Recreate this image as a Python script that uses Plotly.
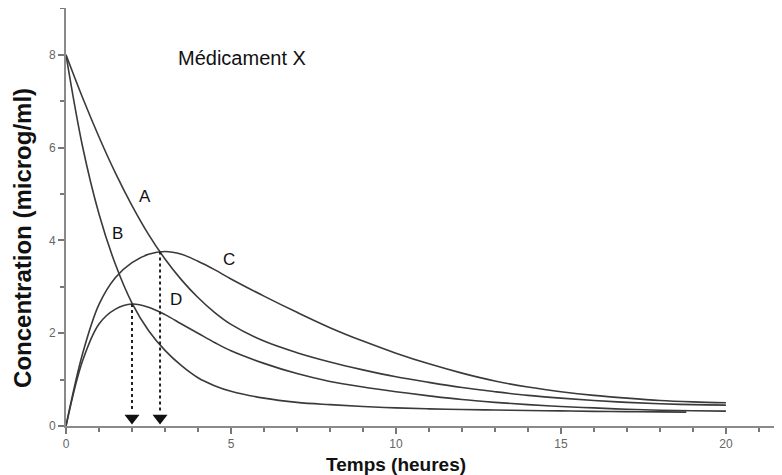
import plotly.graph_objects as go

# ---- data ----
time_h = [0, 0.5, 1, 1.5, 2, 2.5, 3, 3.5, 4, 4.5, 5, 6, 7, 8, 9, 10, 11, 12, 13, 14, 15, 16, 17, 18, 19, 20]
curve_A = [8.0, 7.08, 6.23, 5.45, 4.75, 4.13, 3.6, 3.15, 2.77, 2.45, 2.19, 1.83, 1.58, 1.38, 1.21, 1.06,
           0.94, 0.83, 0.74, 0.66, 0.60, 0.55, 0.51, 0.48, 0.46, 0.45]
curve_C = [0, 1.55, 2.62, 3.2, 3.52, 3.7, 3.76, 3.7, 3.55, 3.37, 3.17, 2.8, 2.45, 2.12, 1.83, 1.57,
           1.34, 1.14, 0.97, 0.84, 0.74, 0.66, 0.60, 0.55, 0.52, 0.50]
curve_D = [0, 1.4, 2.2, 2.52, 2.63, 2.56, 2.4, 2.2, 2.0, 1.8, 1.62, 1.35, 1.13, 0.96, 0.84, 0.74,
           0.65, 0.57, 0.51, 0.46, 0.42, 0.39, 0.36, 0.34, 0.33, 0.32]
time_B = [0, 0.5, 1, 1.5, 2, 2.5, 3, 3.5, 4, 4.5, 5, 6, 7, 8, 9, 10, 11, 12, 13, 14, 15, 16, 17, 18, 18.8]
curve_B = [8.0, 6.03, 4.57, 3.48, 2.65, 2.06, 1.63, 1.3, 1.04, 0.87, 0.75, 0.6, 0.51, 0.46, 0.42, 0.39,
           0.37, 0.355, 0.345, 0.335, 0.325, 0.315, 0.31, 0.305, 0.30]

# peaks of D and C (arrows)
peak_times = [2.0, 2.85]
peak_conc = [2.63, 3.76]

y_ticks = [0, 2, 4, 6, 8]
x_ticks = [0, 5, 10, 15, 20]
curve_labels = ["A", "B", "C", "D"]
label_pos_t = [2.4, 1.55, 4.94, 3.33]
label_pos_c = [4.94, 4.14, 3.58, 2.72]

line_col = "#3a3a3a"
fig = go.Figure()
for xs, ys in [(time_h, curve_A), (time_B, curve_B), (time_h, curve_C), (time_h, curve_D)]:
    fig.add_trace(go.Scatter(x=xs, y=ys, mode="lines",
                             line=dict(color=line_col, width=1.6, shape="spline", smoothing=1.0),
                             hoverinfo="skip", showlegend=False))

for tp, cp in zip(peak_times, peak_conc):
    fig.add_trace(go.Scatter(x=[tp, tp], y=[cp, 0.3], mode="lines",
                             line=dict(color="#222", width=2, dash="dot"), showlegend=False, hoverinfo="skip"))
    fig.add_trace(go.Scatter(x=[tp], y=[0.17], mode="markers",
                             marker=dict(symbol="triangle-down", size=13, color="#111"),
                             showlegend=False, hoverinfo="skip"))

for lab, xt, yc in zip(curve_labels, label_pos_t, label_pos_c):
    fig.add_annotation(x=xt, y=yc, text=lab, showarrow=False,
                       font=dict(family="Liberation Sans", size=17, color="#111"))

fig.add_annotation(x=5.33, y=7.93, text="Médicament X", showarrow=False,
                   font=dict(family="Liberation Sans", size=20, color="#111"))

fig.add_annotation(x=10, xref="x", y=-0.093, yref="paper", text="<b>Temps (heures)</b>", showarrow=False,
                   font=dict(family="Liberation Sans", size=19, color="#111"), yanchor="middle")
fig.add_annotation(x=-0.060, xref="paper", y=0.45, yref="paper", text="<b>Concentration (microg/ml)</b>",
                   textangle=-90, showarrow=False,
                   font=dict(family="Liberation Sans", size=24, color="#111"), xanchor="center", yanchor="middle")

axis_common = dict(showgrid=False, zeroline=False, showline=True, linecolor="#8a8a8a", linewidth=2,
                   ticks="outside", ticklen=6, tickcolor="#777", tickwidth=1.5,
                   tickfont=dict(family="Liberation Sans", size=12, color="#666"))
fig.update_xaxes(range=[0, 21.7], tickvals=x_ticks,
                 minor=dict(dtick=1, ticks="outside", ticklen=4, tickcolor="#777"), **axis_common)
fig.update_yaxes(range=[0, 9.01], tickvals=y_ticks,
                 minor=dict(dtick=1, ticks="outside", ticklen=4, tickcolor="#777"), **axis_common)

# page body has an 8px default margin; margins compensate so the plot area lands where the reference has it
fig.update_layout(width=782, height=475, margin=dict(l=58, r=8, t=0, b=57),
                  plot_bgcolor="white", paper_bgcolor="white")
fig.write_html("out.html")
